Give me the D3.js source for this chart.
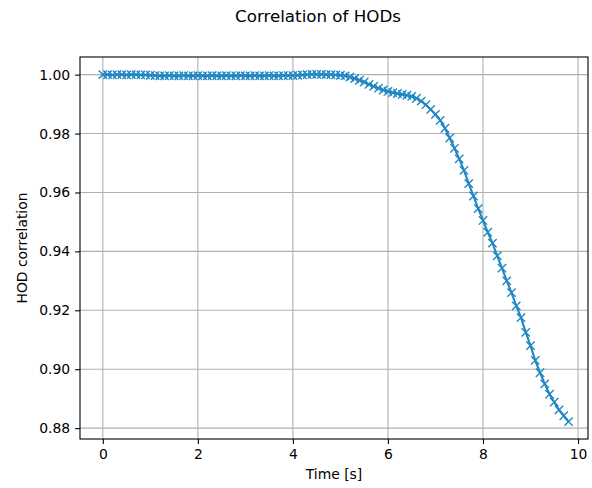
<!DOCTYPE html>
<html>
<head>
<meta charset="utf-8">
<script src="https://cdn.jsdelivr.net/npm/d3@7"></script>
<style>
  body { margin: 0; background: #fff; }
  text { font-family: "DejaVu Sans", sans-serif; fill: #000; }
</style>
</head>
<body>
<svg id="chart" width="592" height="488"></svg>
<script>
// time stamps [s]
const timeValues = [
  0.0, 0.1, 0.2, 0.3, 0.4, 0.5, 0.6, 0.7, 0.8, 0.9,
  1.0, 1.1, 1.2, 1.3, 1.4, 1.5, 1.6, 1.7, 1.8, 1.9,
  2.0, 2.1, 2.2, 2.3, 2.4, 2.5, 2.6, 2.7, 2.8, 2.9,
  3.0, 3.1, 3.2, 3.3, 3.4, 3.5, 3.6, 3.7, 3.8, 3.9,
  4.0, 4.1, 4.2, 4.3, 4.4, 4.5, 4.6, 4.7, 4.8, 4.9,
  5.0, 5.1, 5.2, 5.3, 5.4, 5.5, 5.6, 5.7, 5.8, 5.9,
  6.0, 6.1, 6.2, 6.3, 6.4, 6.5, 6.6, 6.7, 6.8, 6.9,
  7.0, 7.1, 7.2, 7.3, 7.4, 7.5, 7.6, 7.7, 7.8, 7.9,
  8.0, 8.1, 8.2, 8.3, 8.4, 8.5, 8.6, 8.7, 8.8, 8.9,
  9.0, 9.1, 9.2, 9.3, 9.4, 9.5, 9.6, 9.7, 9.8
];

// HOD correlation
const corrValues = [
  1.0000, 1.0000, 0.9999, 1.0000, 1.0000, 0.9999, 1.0000, 1.0000, 0.9999, 0.9999,
  0.9998, 0.9997, 0.9996, 0.9996, 0.9997, 0.9996, 0.9996, 0.9997, 0.9996, 0.9996,
  0.9997, 0.9996, 0.9996, 0.9997, 0.9996, 0.9996, 0.9997, 0.9996, 0.9996, 0.9997,
  0.9996, 0.9996, 0.9997, 0.9996, 0.9996, 0.9997, 0.9996, 0.9996, 0.9997, 0.9997,
  0.9997, 0.9998, 0.9999, 1.0000, 1.0001, 1.0001, 1.0001, 1.0000, 1.0000, 0.9999,
  0.9998, 0.9996, 0.9992, 0.9987, 0.9981, 0.9975, 0.9967, 0.9960, 0.9954, 0.9948,
  0.9943, 0.9939, 0.9936, 0.9933, 0.9930, 0.9926, 0.9920, 0.9910, 0.9898, 0.9882,
  0.9865, 0.9845, 0.9818, 0.9785, 0.9750, 0.9714, 0.9675, 0.9630, 0.9588, 0.9545,
  0.9505, 0.9465, 0.9428, 0.9385, 0.9343, 0.9300, 0.9260, 0.9215, 0.9175, 0.9125,
  0.9080, 0.9030, 0.8988, 0.8950, 0.8915, 0.8888, 0.8862, 0.8842, 0.8822
];

const xTicks = [0, 2, 4, 6, 8, 10];
const yTicks = [0.88, 0.90, 0.92, 0.94, 0.96, 0.98, 1.00];

const lineColor = "#1f87c3";
const gridColor = "#b0b0b0";
const fontSize = 13.9;

const plotLeft = 80, plotRight = 588, plotTop = 57, plotBottom = 439;

let data = timeValues.map((t, i) => [t, corrValues[i]]);

// matplotlib style 5% margins
let xMin = d3.min(timeValues), xMax = d3.max(timeValues);
let yMin = d3.min(corrValues), yMax = d3.max(corrValues);
let yPad = (yMax - yMin) * 0.05;

let x = d3.scaleLinear()
  .domain([xMin - 0.48, xMax + 0.41])
  .range([plotLeft, plotRight]);

let y = d3.scaleLinear()
  .domain([yMin - yPad, yMax + yPad])
  .range([plotBottom, plotTop]);

let svg = d3.select("#chart");

// grid
svg.append("g")
  .selectAll("line.vgrid")
  .data(xTicks)
  .enter()
  .append("line")
  .attr("x1", d => x(d))
  .attr("x2", d => x(d))
  .attr("y1", plotTop)
  .attr("y2", plotBottom)
  .style("stroke", gridColor)
  .style("stroke-width", 1.1);

svg.append("g")
  .selectAll("line.hgrid")
  .data(yTicks)
  .enter()
  .append("line")
  .attr("x1", plotLeft)
  .attr("x2", plotRight)
  .attr("y1", d => y(d))
  .attr("y2", d => y(d))
  .style("stroke", gridColor)
  .style("stroke-width", 1.1);

// line + x markers
svg.append("path")
  .datum(data)
  .attr("fill", "none")
  .attr("stroke", lineColor)
  .attr("stroke-width", 2.08)
  .attr("d", d3.line()
    .x(d => x(d[0]))
    .y(d => y(d[1])));

let r = 4.17;
svg.append("g")
  .selectAll("path.marker")
  .data(data)
  .enter()
  .append("path")
  .attr("class", "marker")
  .attr("d", d => {
    let cx = x(d[0]), cy = y(d[1]);
    return "M" + (cx - r) + "," + (cy - r) + "L" + (cx + r) + "," + (cy + r) +
      "M" + (cx - r) + "," + (cy + r) + "L" + (cx + r) + "," + (cy - r);
  })
  .attr("stroke", lineColor)
  .attr("stroke-width", 1.39)
  .attr("fill", "none");

// axes
let xAxis = svg.append("g")
  .attr("transform", "translate(0," + plotBottom + ")")
  .call(d3.axisBottom(x).tickValues(xTicks).tickFormat(d3.format("d")).tickSize(4.9).tickPadding(4.9));

let yAxis = svg.append("g")
  .attr("transform", "translate(" + plotLeft + ",0)")
  .call(d3.axisLeft(y).tickValues(yTicks).tickFormat(d3.format(".2f")).tickSize(4.9).tickPadding(4.9));

[xAxis, yAxis].forEach(ax => {
  ax.select(".domain").remove();
  ax.selectAll(".tick line").style("stroke", "#000").style("stroke-width", 1.1);
  ax.selectAll(".tick text")
    .style("font-family", "DejaVu Sans")
    .style("font-size", fontSize + "px")
    .style("fill", "#000");
});

// frame
svg.append("rect")
  .attr("x", plotLeft)
  .attr("y", plotTop)
  .attr("width", plotRight - plotLeft)
  .attr("height", plotBottom - plotTop)
  .style("fill", "none")
  .style("stroke", "#000")
  .style("stroke-width", 1.1);

// labels
svg.append("text")
  .attr("x", (plotLeft + plotRight) / 2)
  .attr("y", 479)
  .style("text-anchor", "middle")
  .style("font-size", fontSize + "px")
  .text("Time [s]");

svg.append("text")
  .attr("transform", "translate(27," + (plotTop + plotBottom) / 2 + ") rotate(-90)")
  .style("text-anchor", "middle")
  .style("font-size", fontSize + "px")
  .text("HOD correlation");

svg.append("text")
  .attr("x", 318)
  .attr("y", 22)
  .style("text-anchor", "middle")
  .style("font-size", "16.7px")
  .text("Correlation of HODs");
</script>
</body>
</html>
